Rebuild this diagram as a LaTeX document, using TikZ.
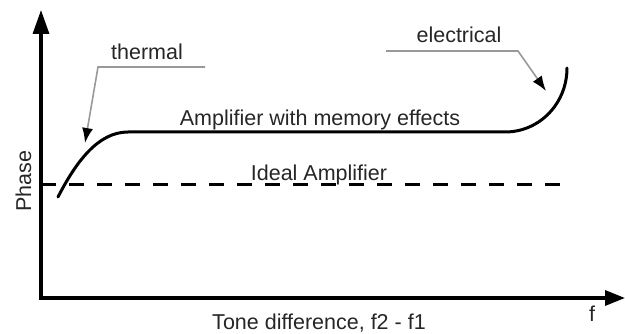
\documentclass[tikz,border=0pt]{standalone}
\usepackage{fontspec}
\setmainfont{Liberation Sans}
\usetikzlibrary{arrows.meta}
\begin{document}
\begin{tikzpicture}[x=1pt,y=-1pt,
  lbl/.style={font=\fontsize{21.5}{24}\selectfont, text=black!85, inner sep=0pt, anchor=base},
  axis/.style={line width=3.3pt, line join=miter, {Triangle[length=24pt,width=16pt]}-{Triangle[length=20pt,width=15pt]}},
  curve/.style={line width=3pt, line cap=round},
  ideal/.style={line width=3pt, dash pattern=on 15pt off 13pt},
  leader/.style={line width=1.6pt, draw=black!40, -{Latex[length=15pt,width=11pt,color=black]}}]
\useasboundingbox (0,0) rectangle (625,334);
% axes
\coordinate (ytip) at (41,10);
\coordinate (origin) at (41,298);
\coordinate (xtip) at (625,298);
\draw[axis] (ytip) -- (origin) -- (xtip);
% ideal amplifier
\coordinate (i0) at (41,185);
\coordinate (i1) at (568,185);
\draw[ideal] (i0) -- (i1);
% amplifier with memory effects
\coordinate (c0) at (58,197);
\coordinate (c1) at (128,132);
\coordinate (c2) at (505,132);
\coordinate (c3) at (567,68);
\draw[curve] (c0) .. controls (76,162) and (98,132) .. (c1) -- (c2)
  .. controls (540,132) and (567,103) .. (c3);
% labels
\node[lbl] (thermal) at (147,60) {thermal};
\node[lbl] (electrical) at (459,43) {electrical};
\node[lbl] (memory) at (320,126) {Amplifier with memory effects};
\node[lbl] (idealtxt) at (319,181) {Ideal Amplifier};
\node[lbl] (tone) at (319,330) {Tone difference, f2 - f1};
\node[lbl] (f) at (592,322) {f};
\node[lbl, rotate=90] (phase) at (31,181) {Phase};
% leaders
\coordinate (t0) at (205,67);
\coordinate (t1) at (98,67);
\coordinate (t2) at (85,143);
\draw[leader] (t0) -- (t1) -- (t2);
\coordinate (e0) at (386,51);
\coordinate (e1) at (518,51);
\coordinate (e2) at (546,91);
\draw[leader] (e0) -- (e1) -- (e2);
\end{tikzpicture}
\end{document}
